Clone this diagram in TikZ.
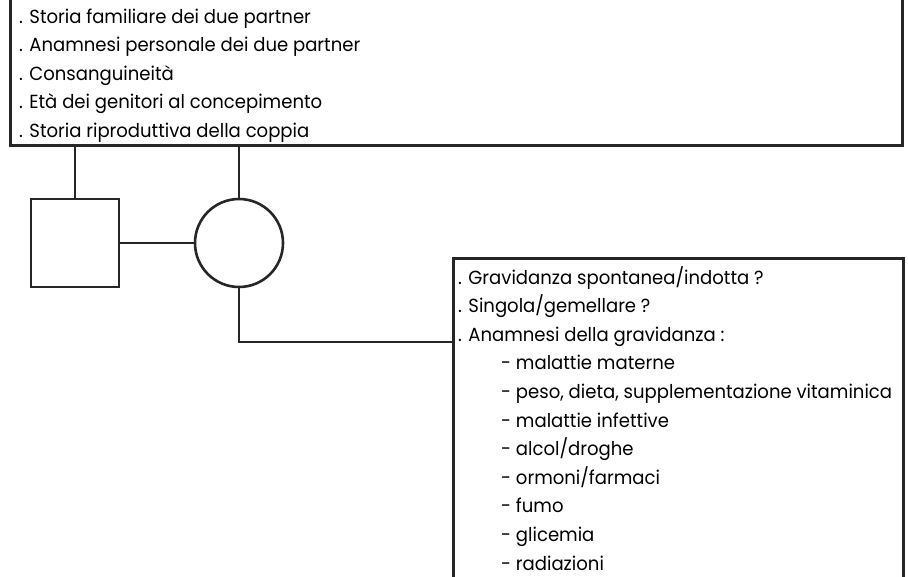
\documentclass[tikz,border=0pt]{standalone}
\usepackage{fontspec}
\setmainfont{Poppins}[FakeStretch=0.95]
\usetikzlibrary{positioning}

\tikzset{
  line/.style={draw=black!85, line width=2.6pt},
  listbox/.style={line, rectangle, inner sep=0pt, anchor=south west},
  listtext/.style={align=left, inner sep=0pt, anchor=base west,
    font=\fontsize{19}{28.6}\selectfont},
  male/.style={line, rectangle, minimum size=88pt, inner sep=0pt},
  female/.style={line, circle, minimum size=88pt, inner sep=0pt}
}
\newcommand{\voce}{\hspace*{43pt}- }

\begin{document}
\begin{tikzpicture}[x=1pt,y=-1pt]
    \useasboundingbox (0,0) rectangle (908,577);
    \clip (0,0) rectangle (908,577);
    % family history box
    \node[listbox, minimum width=892pt, minimum height=180pt] (famiglia) at (9,147) {};
    % anchor base = last line
    \node[listtext] (famtext) at (19,137.5) {%
      . Storia familiare dei due partner\\
      . Anamnesi personale dei due partner\\
      . Consanguineità\\
      . Età dei genitori al concepimento\\
      . Storia riproduttiva della coppia};
    % couple
    \node[male] (padre) at (75,243) {};
    \node[female] (madre) at (239,243) {};
    % pregnancy box
    \node[listbox, anchor=north west, minimum width=450pt, minimum height=360pt] (gravidanza) at (452,257) {};
    \node[listtext] (gravtext) at (458,570) {%
      . Gravidanza spontanea/indotta ?\\
      . Singola/gemellare ?\\
      . Anamnesi della gravidanza :\\
      \voce malattie materne\\
      \voce peso, dieta, supplementazione vitaminica\\
      \voce malattie infettive\\
      \voce alcol/droghe\\
      \voce ormoni/farmaci\\
      \voce fumo\\
      \voce glicemia\\
      \voce radiazioni};
    \coordinate (gomito) at (239,342);
    % connectors
    \draw[line] (padre.north) -- (padre |- famiglia.south);
    \draw[line] (madre.north) -- (madre |- famiglia.south);
    \draw[line] (padre.east) -- (madre.west);
    \draw[line] (madre.south) -- (gomito) -- (gomito -| gravidanza.west);
\end{tikzpicture}
\end{document}
